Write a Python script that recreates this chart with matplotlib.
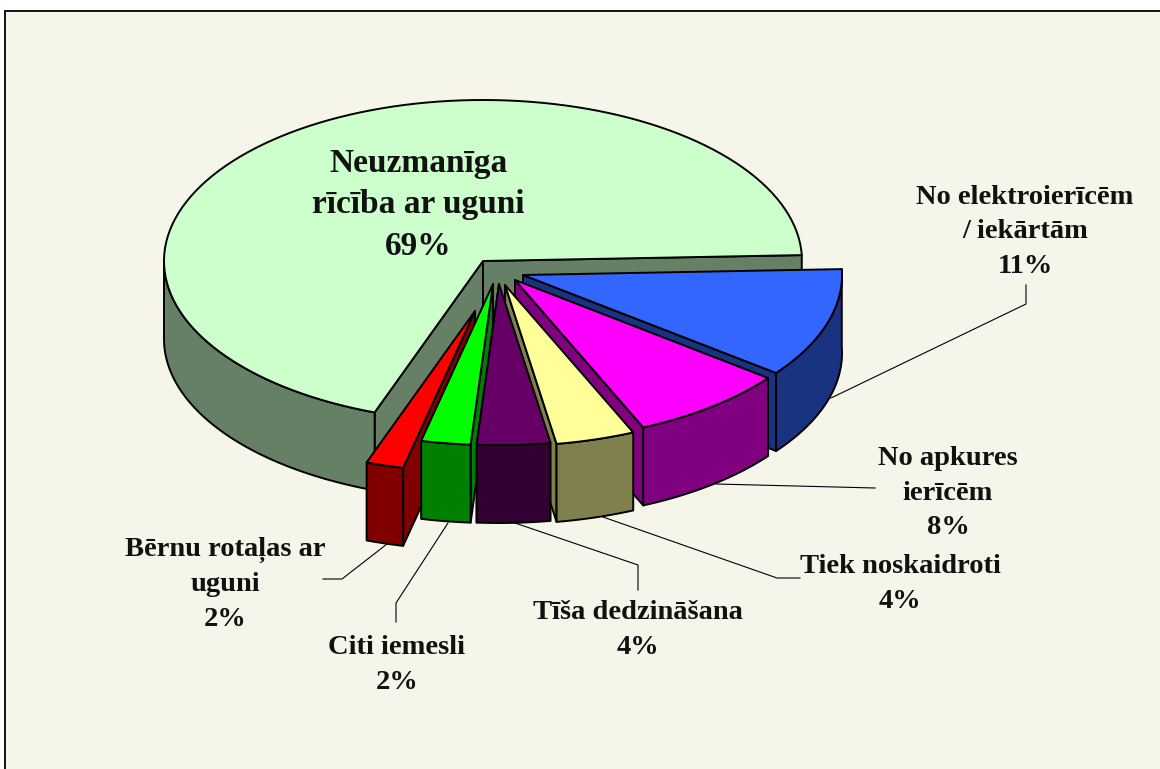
import matplotlib.pyplot as plt
from matplotlib.patches import Polygon, Rectangle
import numpy as np

# slice order runs clockwise from 3 o'clock
categories = ["No elektroierīcēm\n/ iekārtām", "No apkures\nierīcēm", "Tiek noskaidroti",
              "Tīša dedzināšana", "Citi iemesli", "Bērnu rotaļas ar\nuguni",
              "Neuzmanīga\nrīcība ar uguni"]
values = [11.0, 8.0, 4.0, 3.7, 2.5, 1.9, 68.9]

top_colors = ["#3366FF", "#FF00FF", "#FFFF99", "#660066", "#00FF00", "#FF0000", "#CCFFCC"]
side_colors = ["#1A3380", "#800080", "#80804D", "#330033", "#008000", "#800000", "#668066"]

# pixel layout of the pie
rx, ry = 319, 161
depth = 78
start_angle = -2.1
apex_x = [523, 515, 505, 499, 493, 475, 483]
apex_y = [275, 280, 285, 284, 284, 311, 261]

label_x = [1025, 948, 900, 638, 397, 225, 418]
label_y = [232, 493, 584, 630, 665, 584, 205]
label_size = [20.5, 20.5, 20.5, 20.5, 20.5, 20.5, 24]
label_spacing = [1.5, 1.5, 1.5, 1.5, 1.5, 1.5, 1.42]

leaders = [
    ([1026, 1026, 831], [285, 304, 398]),
    ([875, 716], [488, 484]),
    ([800, 777, 603], [578, 578, 517]),
    ([638, 638, 515], [590, 565, 523]),
    ([396, 396, 448], [622, 603, 523]),
    ([323, 342, 387], [579, 579, 544]),
]

fig = plt.figure(figsize=(11.6, 7.69), dpi=100, facecolor="white")
ax = fig.add_axes([0, 0, 1, 1])
ax.set_xlim(0, 1160)
ax.set_ylim(769, 0)
ax.axis("off")

ax.add_patch(Rectangle((5, 11), 1160, 770, facecolor="#F5F6E9", edgecolor="black", lw=1.3, zorder=0))

edges = start_angle + np.cumsum([0] + values) * 3.6


def arc(cx, cy, a0, a1):
    t = np.radians(np.linspace(a0, a1, 120))
    return np.column_stack([cx + rx * np.cos(t), cy + ry * np.sin(t)])


def draw_face(pts, color, z):
    ax.add_patch(Polygon(pts, closed=True, facecolor=color, edgecolor="black", lw=1.4,
                         joinstyle="round", zorder=z))


# back to front: big slice, right side slices, then left ones, the middle one last
draw_order = [6, 0, 1, 2, 5, 4, 3]
for z, i in enumerate(draw_order):
    cx, cy = apex_x[i], apex_y[i]
    a0, a1 = edges[i], edges[i + 1]
    base = 2 + z * 3
    apex = np.array([[cx, cy]])
    down = np.array([0, depth])

    # cut faces, only the ones that can be seen
    if i == 6:
        cuts = (a0, a1)
    elif (a0 + a1) / 2 < 90:
        cuts = (a1,)
    else:
        cuts = (a0,)
    for a in cuts:
        rim = arc(cx, cy, a, a)[:1]
        draw_face(np.vstack([apex, rim, rim + down, apex + down]), side_colors[i], base)

    # outer wall, only the part that faces the viewer
    if i == 6:
        rim = arc(cx, cy, a0, 180)
    else:
        rim = arc(cx, cy, a0, a1)
    draw_face(np.vstack([rim, rim[::-1] + down]), side_colors[i], base + 1)

    # top
    draw_face(np.vstack([apex, arc(cx, cy, a0, a1)]), top_colors[i], base + 2)

for xs, ys in leaders:
    ax.plot(xs, ys, color="black", lw=0.8, zorder=1)

for i, name in enumerate(categories):
    ax.text(label_x[i], label_y[i], f"{name}\n{values[i]:.0f}%", ha="center", va="center",
            family="Liberation Serif", weight="bold", fontsize=label_size[i],
            linespacing=label_spacing[i], color="#111111", zorder=40)

fig.savefig("out.png", dpi=100)
